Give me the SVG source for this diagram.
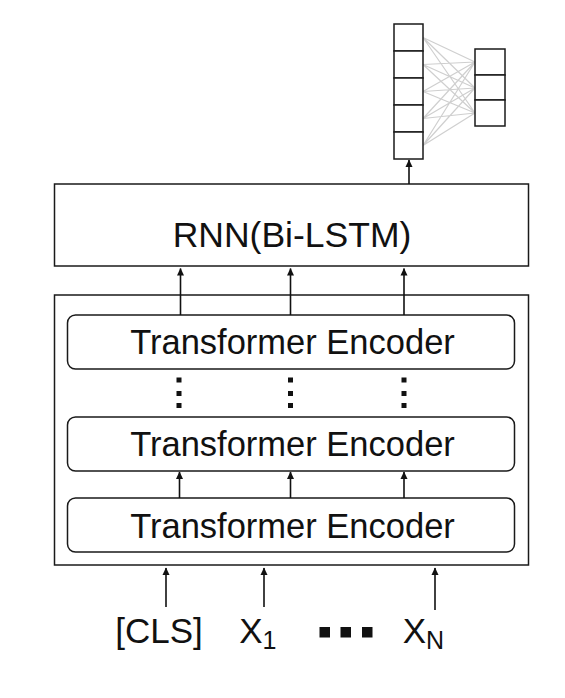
<svg xmlns="http://www.w3.org/2000/svg" width="565" height="698" viewBox="0 0 565 698">
<style>
.box{fill:#fff;stroke:#1a1a1a;stroke-width:1.5}
.frame{fill:none;stroke:#1a1a1a;stroke-width:1.5}
.cell{fill:#fff;stroke:#1a1a1a;stroke-width:1.5}
.t{font-family:"Liberation Sans",Arial,sans-serif;fill:#111;text-anchor:middle}
.big{font-size:35.5px}
.te{font-size:34.5px}
.lbl{font-size:35px}
.sub{font-size:25px}
.arr{stroke:#111;stroke-width:1.6;fill:none;marker-end:url(#ah)}
.nn{stroke:#cfcfcf;stroke-width:1.2}
.dot{fill:#111}
</style>
<defs>
<marker id="ah" markerWidth="8" markerHeight="8" refX="7" refY="4" orient="auto" markerUnits="userSpaceOnUse">
<path d="M0,0.5 L7.5,4 L0,7.5 Z" fill="#111"/>
</marker>
</defs>
<rect width="565" height="698" fill="#fff"/>
<g id="bert">
<rect class="frame" x="54.5" y="295" width="474" height="270"/>
</g>
<g id="nn-links">
<path class="nn" d="M423,37.5 L475,62 M423,37.5 L475,88 M423,37.5 L475,113 M423,64.5 L475,62 M423,64.5 L475,88 M423,64.5 L475,113 M423,91.5 L475,62 M423,91.5 L475,88 M423,91.5 L475,113 M423,118.5 L475,62 M423,118.5 L475,88 M423,118.5 L475,113 M423,145.5 L475,62 M423,145.5 L475,88 M423,145.5 L475,113"/>
</g>
<g id="vec-left">
<rect class="cell" x="394" y="24" width="29" height="27"/>
<rect class="cell" x="394" y="51" width="29" height="27"/>
<rect class="cell" x="394" y="78" width="29" height="27"/>
<rect class="cell" x="394" y="105" width="29" height="27"/>
<rect class="cell" x="394" y="132" width="29" height="27"/>
</g>
<g id="vec-right">
<rect class="cell" x="475" y="49" width="30" height="26"/>
<rect class="cell" x="475" y="75" width="30" height="25"/>
<rect class="cell" x="475" y="100" width="30" height="26"/>
</g>
<g id="rnn">
<rect class="box" x="54.5" y="184" width="474" height="82"/>
<text class="t big" x="292" y="247">RNN(Bi-LSTM)</text>
</g>
<g id="te1">
<rect class="box" x="67.5" y="315" width="447" height="54" rx="8"/>
<text class="t te" x="292.5" y="354">Transformer Encoder</text>
</g>
<g id="vdots">
<rect class="dot" x="176.5" y="377.5" width="5" height="5"/>
<rect class="dot" x="176.5" y="391" width="5" height="5"/>
<rect class="dot" x="176.5" y="403" width="5" height="5"/>
<rect class="dot" x="288" y="377.5" width="5" height="5"/>
<rect class="dot" x="288" y="391" width="5" height="5"/>
<rect class="dot" x="288" y="403" width="5" height="5"/>
<rect class="dot" x="401.5" y="377.5" width="5" height="5"/>
<rect class="dot" x="401.5" y="391" width="5" height="5"/>
<rect class="dot" x="401.5" y="403" width="5" height="5"/>
</g>
<g id="te2">
<rect class="box" x="67.5" y="417" width="447" height="54" rx="8"/>
<text class="t te" x="292.5" y="456">Transformer Encoder</text>
</g>
<g id="te3">
<rect class="box" x="67.5" y="498" width="447" height="54" rx="8"/>
<text class="t te" x="292.5" y="538">Transformer Encoder</text>
</g>
<g id="cls">
<text class="t lbl" x="159" y="643">[CLS]</text>
</g>
<g id="x1">
<text class="t lbl" x="251" y="643">X</text>
<text class="t sub" x="269.5" y="649">1</text>
</g>
<g id="hdots">
<rect class="dot" x="319.5" y="627" width="10.5" height="10.5"/>
<rect class="dot" x="340.5" y="627" width="10.5" height="10.5"/>
<rect class="dot" x="362" y="627" width="10.5" height="10.5"/>
</g>
<g id="xn">
<text class="t lbl" x="414.5" y="643">X</text>
<text class="t sub" x="435" y="649">N</text>
</g>
<g id="connectors">
<path class="arr" d="M409,184 V160"/>
<path class="arr" d="M180.5,315 V268.5"/>
<path class="arr" d="M290.5,315 V268.5"/>
<path class="arr" d="M404,315 V268.5"/>
<path class="arr" d="M179.5,498 V472"/>
<path class="arr" d="M290.5,498 V472"/>
<path class="arr" d="M404,498 V472"/>
<path class="arr" d="M166,607 V568"/>
<path class="arr" d="M264,607 V568"/>
<path class="arr" d="M435,610 V568"/>
</g>
</svg>
